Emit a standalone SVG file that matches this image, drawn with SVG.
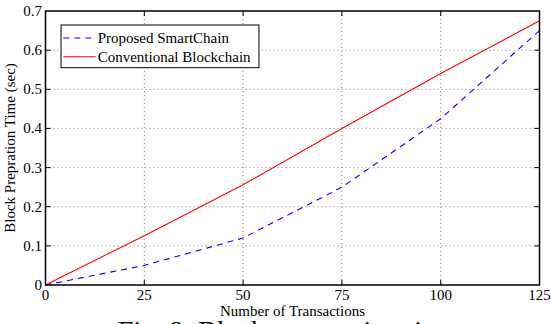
<svg xmlns="http://www.w3.org/2000/svg" width="551" height="324" viewBox="0 0 551 324">
<style>
text{font-family:"Liberation Serif","Times New Roman",serif;font-size:15px;fill:#000}
.grid{stroke:#808080;stroke-width:1;stroke-dasharray:1 3;fill:none}
.tick{stroke:#000;stroke-width:1;fill:none}
.yl{text-anchor:end}
.xl{text-anchor:middle}
.red{stroke:#ff0000;stroke-width:1.1;fill:none}
.blue{stroke:#0000ff;stroke-width:1.1;fill:none;stroke-dasharray:6 5}
</style>
<rect width="551" height="324" fill="#fff"/>
<g id="grid">
<path class="grid" d="M144.3 11V285M243.1 11V285M341.9 11V285M440.7 11V285"/>
<path class="grid" d="M45.5 245.9H539.5M45.5 206.7H539.5M45.5 167.6H539.5M45.5 128.4H539.5M45.5 89.3H539.5M45.5 50.2H539.5"/>
</g>
<g id="ticks">
<path class="tick" d="M144.3 285v-5M243.1 285v-5M341.9 285v-5M440.7 285v-5M144.3 11v5M243.1 11v5M341.9 11v5M440.7 11v5"/>
<path class="tick" d="M45.5 245.9h5M45.5 206.7h5M45.5 167.6h5M45.5 128.4h5M45.5 89.3h5M45.5 50.2h5M539.5 245.9h-5M539.5 206.7h-5M539.5 167.6h-5M539.5 128.4h-5M539.5 89.3h-5M539.5 50.2h-5"/>
</g>
<g id="series">
<polyline class="red" points="45.5,285 144.3,235.7 243.1,184.8 341.9,128.4 440.7,73.6 539.5,20.8"/>
<polyline class="blue" points="45.5,285 144.3,265.4 243.1,238 341.9,187.2 440.7,118.7 539.5,30.6"/>
</g>
<rect id="axes" x="45.5" y="11" width="494" height="274" fill="none" stroke="#000" stroke-width="1.5"/>
<g id="ylabels">
<text class="yl" x="42" y="290">0</text>
<text class="yl" x="42" y="250.9">0.1</text>
<text class="yl" x="42" y="211.7">0.2</text>
<text class="yl" x="42" y="172.6">0.3</text>
<text class="yl" x="42" y="133.4">0.4</text>
<text class="yl" x="42" y="94.3">0.5</text>
<text class="yl" x="42" y="55.2">0.6</text>
<text class="yl" x="42" y="16">0.7</text>
</g>
<g id="xlabels">
<text class="xl" x="45.5" y="300">0</text>
<text class="xl" x="144.3" y="300">25</text>
<text class="xl" x="243.1" y="300">50</text>
<text class="xl" x="341.9" y="300">75</text>
<text class="xl" x="440.7" y="300">100</text>
<text class="xl" x="539.5" y="300">125</text>
</g>
<text id="xtitle" class="xl" x="292.5" y="316">Number of Transactions</text>
<text id="ytitle" class="xl" transform="translate(15 148) rotate(-90)">Block Prepration Time (sec)</text>
<g id="legend">
<rect x="61" y="25" width="198" height="42.7" fill="#fff" stroke="#000" stroke-width="1"/>
<line class="blue" x1="63.3" y1="38" x2="95.7" y2="38"/>
<line class="red" x1="63.3" y1="56.7" x2="95.7" y2="56.7"/>
<text x="97.7" y="42.7">Proposed SmartChain</text>
<text x="97.7" y="61.7">Conventional Blockchain</text>
</g>
<text id="caption" x="287" y="339.5" style="font-size:28px;text-anchor:middle">Fig. 8: Block preparation time</text>
</svg>
